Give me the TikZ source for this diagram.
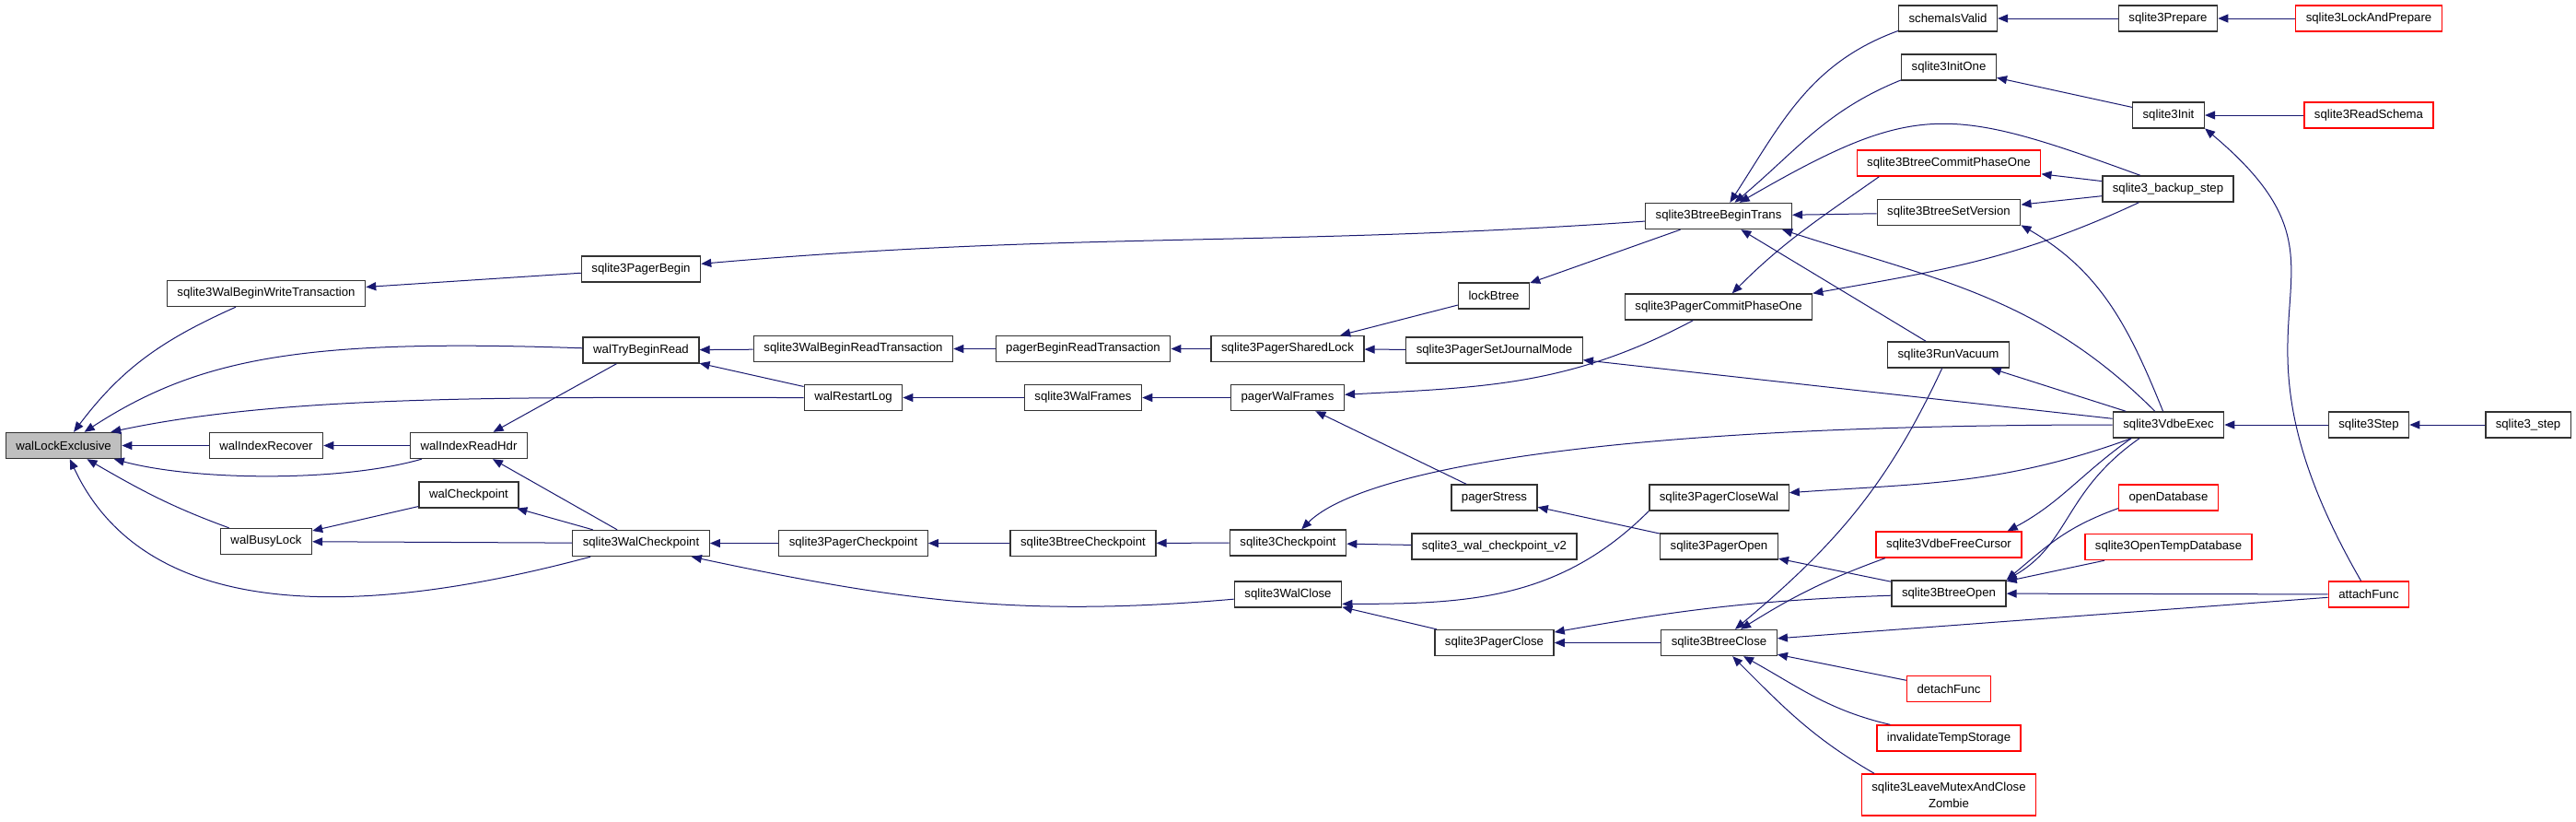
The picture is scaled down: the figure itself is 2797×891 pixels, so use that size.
\documentclass[tikz,border=0pt]{standalone}
\usepackage{fontspec}
\setmainfont{Liberation Sans}
\usetikzlibrary{arrows.meta,positioning}
\definecolor{edgeblue}{RGB}{25,25,112}
\definecolor{rootgray}{RGB}{191,191,191}
\definecolor{boxline}{RGB}{50,50,50}
\tikzset{
  fn/.style={draw=boxline, line width=0.7pt, fill=white, minimum height=14pt, inner xsep=5.5pt, inner ysep=0pt, font=\fontsize{6.6}{9}\selectfont},
  fnred/.style={fn, draw=red},
  call/.style={draw=edgeblue, line width=0.5pt, <-}
}

\begin{document}
\begin{tikzpicture}[x=0.5pt, y=-0.5pt, >={Triangle[length=5.5pt,width=4.5pt]}]
\useasboundingbox (0,0) rectangle (2797,891);
\fill[white] (0,0) rectangle (2797,891);
\node[fn, fill=rootgray] (wle) at (69,483.5) {walLockExclusive};
\foreach \n/\x/\y/\t in {wbwt/289/318.5/sqlite3WalBeginWriteTransaction, wir/289/483.5/walIndexRecover, wbl/289/587.5/walBusyLock,
  wirh/509/483.5/walIndexReadHdr, wcp/509/537/walCheckpoint,
  pbeg/696/292/sqlite3PagerBegin, wtbr/696/380/walTryBeginRead, swcp/696/589.5/sqlite3WalCheckpoint,
  wbrt/926.5/378.5/sqlite3WalBeginReadTransaction, wrl/926.5/431.5/walRestartLog, spcp/926.5/589.5/sqlite3PagerCheckpoint,
  pbrt/1176/378.5/pagerBeginReadTransaction, wfr/1176/431.5/sqlite3WalFrames, sbcp/1176/589.5/sqlite3BtreeCheckpoint,
  psl/1398/378.5/sqlite3PagerSharedLock, pwf/1398/431.5/pagerWalFrames, scp/1398.5/589/sqlite3Checkpoint, wclose/1398.5/645/sqlite3WalClose,
  lbt/1622/321/lockBtree, psjm/1622.5/380/sqlite3PagerSetJournalMode, pst/1622.5/540/pagerStress,
  wcv2/1622.5/593/sqlite3\_wal\_checkpoint\_v2, pclose/1622.5/697.5/sqlite3PagerClose,
  btbt/1866/234.5/sqlite3BtreeBeginTrans, pcpo/1866/333/sqlite3PagerCommitPhaseOne, pcw/1866.5/540/sqlite3PagerCloseWal,
  popen/1866.5/593/sqlite3PagerOpen, btclose/1866.5/697.5/sqlite3BtreeClose,
  siv/2115/20/schemaIsValid, sio/2116/73/sqlite3InitOne, bsv/2116/230.5/sqlite3BtreeSetVersion,
  rvac/2115.5/385/sqlite3RunVacuum, btopen/2116/644/sqlite3BtreeOpen,
  sprep/2354/20/sqlite3Prepare, sinit/2354.5/125/sqlite3Init, bkst/2354/205/sqlite3\_backup\_step, vexec/2354.5/461/sqlite3VdbeExec,
  sstep/2572/461/sqlite3Step, s3step/2745/461/sqlite3\_step}
  \node[fn] (\n) at (\x,\y) {\t};
\foreach \n/\x/\y/\t in {bcpo/2116/177/sqlite3BtreeCommitPhaseOne, vfc/2116/591/sqlite3VdbeFreeCursor,
  detf/2116/747.5/detachFunc, itsg/2116/801/invalidateTempStorage,
  odb/2354.5/540/openDatabase, otdb/2354.5/593.5/sqlite3OpenTempDatabase,
  slap/2572/20/sqlite3LockAndPrepare, srs/2572/125/sqlite3ReadSchema, attf/2572/645/attachFunc}
  \node[fnred] (\n) at (\x,\y) {\t};
\node[fnred, align=center, minimum height=22.5pt] (lmcz) at (2116,862.5) {sqlite3LeaveMutexAndClose\\Zombie};

\foreach \a/\b in {wle/wir, wir/wirh, wirh/wtbr, wirh/swcp, wbl/wcp, wbl/swcp, wcp/swcp, wbwt/pbeg,
  wtbr/wbrt, wtbr/wrl, wbrt/pbrt, pbrt/psl, wrl/wfr, wfr/pwf, swcp/spcp, spcp/sbcp, sbcp/scp,
  psl/lbt, psl/psjm, lbt/btbt, pwf/pst, scp/wcv2, wclose/pclose, pst/popen, pclose/btclose,
  btbt/bsv, btbt/rvac, bcpo/bkst, bsv/bkst, siv/sprep, sprep/slap, sio/sinit, sinit/srs,
  psjm/vexec, rvac/vexec, popen/btopen, btopen/otdb, btopen/attf, btclose/attf, btclose/detf,
  vexec/sstep, sstep/s3step}
  \draw[call] (\a) -- (\b);

\draw[call] (wle) to[out=53,in=204] (wbwt);
\draw[call] (wle) to[out=33,in=178,out distance=75pt,in distance=150pt] (wtbr);
\draw[call] (wle.16) to[out=12,in=180,out distance=100pt,in distance=150pt] (wrl);
\draw[call] (wle) to[out=345,in=196,looseness=0.7] (wirh);
\draw[call] (wle) to[out=330,in=160] (wbl);
\draw[call] (wle) to[out=295,in=195,out distance=100pt,in distance=125pt] (swcp);
\draw[call] (pbeg) to[out=5,in=184] (btbt);
\draw[call] (swcp.-15) to[out=-12,in=185] (wclose);
\draw[call] (pwf) to[out=3,in=208] (pcpo);
\draw[call] (pcpo) to[out=45,in=215] (bcpo.191);
\draw[call] (scp) to[out=45,in=180,out distance=40pt,in distance=300pt] (vexec);
\draw[call] (wclose.-10) to[out=0,in=225] (pcw.south west);
\draw[call] (pclose) to[out=10,in=182] (btopen);
\draw[call] (btclose) to[out=-29,in=167] (itsg);
\draw[call] (btclose) to[out=-45,in=150] (lmcz.164);
\draw[call] (btclose) to[out=40,in=245] (rvac);
\draw[call] (btclose) to[out=32,in=200] (vfc.192);
\draw[call] (btbt.-12) to[out=-18,in=135] (vexec);
\draw[call] (bsv.-10) to[out=-30,in=112] (vexec);
\draw[call] (pcw) to[out=4,in=200] (vexec);
\draw[call] (vfc.13) to[out=28,in=215] (vexec.200);
\draw[call] (btopen.north east) to[out=30,in=215,out distance=40pt,in distance=50pt] (vexec.205);
\draw[call] (btopen.north east) to[out=40,in=200,out distance=30pt,in distance=30pt] (odb.192);
\draw[call] (btbt.50) to[out=57,in=200] (siv.194);
\draw[call] (btbt.40) to[out=40,in=202] (sio.195);
\draw[call] (btbt.33) to[out=30,in=160,looseness=1.3] (bkst.154);
\draw[call] (pcpo.north east) to[out=10,in=205] (bkst);
\draw[call] (sinit.-20) to[out=-40,in=120,out distance=125pt,in distance=175pt] (attf);
\end{tikzpicture}
\end{document}
